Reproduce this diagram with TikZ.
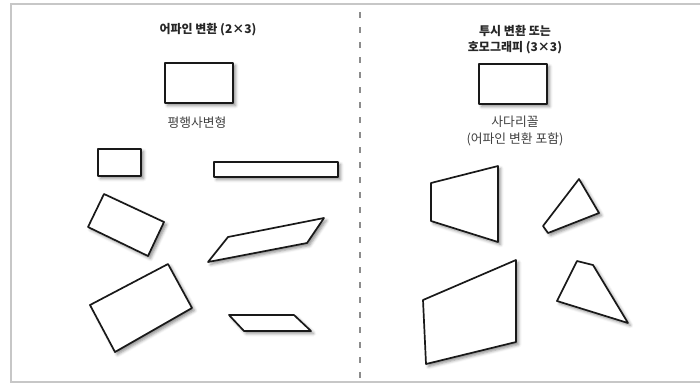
\documentclass[tikz,border=0pt]{standalone}
\usepackage{fontspec}
\newfontfamily\kr{Noto Sans CJK KR}
\usetikzlibrary{shadows,shadows.blur}
\begin{document}
\begin{tikzpicture}[x=1pt,y=-1pt,
  frameline/.style={draw=black!22, line width=1.6pt},
  divider/.style={draw=black!45, line width=1.2pt, dash pattern=on 6pt off 9pt},
  shapebox/.style={draw=black!90, line width=1.7pt, line join=round, fill=white,
    blur shadow={shadow xshift=2.5pt, shadow yshift=-2.5pt, shadow blur radius=3pt, shadow opacity=45}},
  title/.style={font=\kr\bfseries\fontsize{12}{16}\selectfont, text=black!85, align=center, inner sep=0pt},
  label/.style={font=\kr\fontsize{12.8}{17}\selectfont, text=black!75, align=center, inner sep=0pt}]
\useasboundingbox (0,0) rectangle (700,384);
% frame
\draw[frameline] (700,4) -- (11,4) -- (11,382) -- (700,382);
\draw[divider] (360,12) -- (360,378);
% titles and labels
\node[title] (t1) at (208,30) {어파인 변환 (2×3)};
\node[title] (t2) at (515,40) {투시 변환 또는\\호모그래피 (3×3)};
\node[label] (l1) at (197,123) {평행사변형};
\node[label] (l2) at (515,131) {사다리꼴\\(어파인 변환 포함)};
% left shapes
\draw[shapebox] (165,63) rectangle (233,103);
\draw[shapebox] (98,149) rectangle (141,176);
\draw[shapebox] (214,162) rectangle (338,177);
\draw[shapebox] (104,194) -- (164,222) -- (148,256) -- (88,227) -- cycle;
\draw[shapebox] (228,237) -- (324,218) -- (307,243) -- (208,262) -- cycle;
\draw[shapebox] (90,305) -- (168,264) -- (192,308) -- (115,352) -- cycle;
\draw[shapebox] (229,315) -- (294,315) -- (311,331) -- (244,331) -- cycle;
% right shapes
\draw[shapebox] (479,64) rectangle (547,104);
\draw[shapebox] (431,183) -- (498,166) -- (498,242) -- (431,221) -- cycle;
\draw[shapebox] (579,179) -- (599,213) -- (548,233) -- (543,226) -- cycle;
\draw[shapebox] (423,300) -- (516,260) -- (516,342) -- (426,364) -- cycle;
\draw[shapebox] (577,261) -- (593,265) -- (628,323) -- (557,301) -- cycle;
\end{tikzpicture}
\end{document}
